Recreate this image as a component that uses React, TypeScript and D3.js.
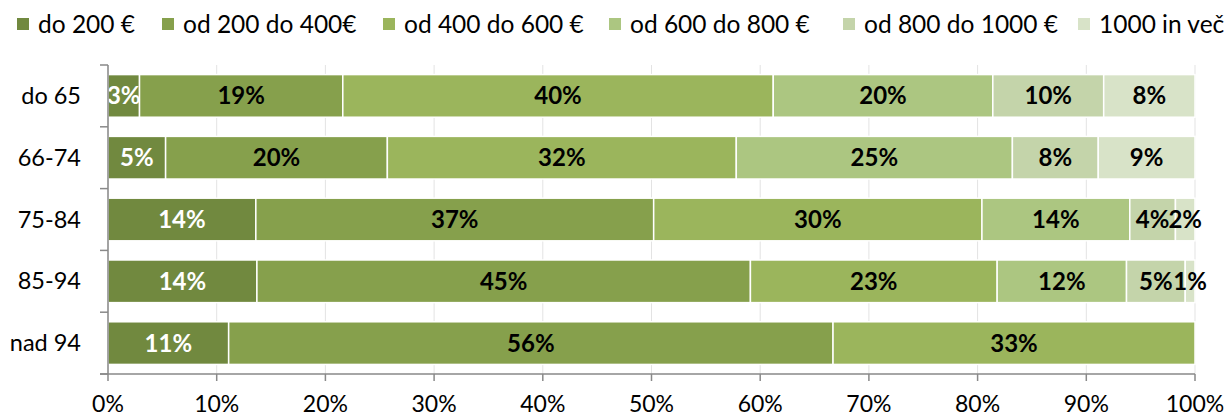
import React from "react";
import * as d3 from "d3";

const categories = ["do 65", "66-74", "75-84", "85-94", "nad 94"];
const seriesNames = ["do 200 €", "od 200 do 400€", "od 400 do 600 €", "od 600 do 800 €", "od 800 do 1000 €", "1000 in več"];
const seriesColors = ["#71893F", "#86A04C", "#9BB55C", "#ACC681", "#C4D4AA", "#D8E3C8"];
const labelColors = ["#FFFFFF", "#000000", "#000000", "#000000", "#000000", "#000000"];
// values per category, in series order (percent)
const rowDo65 = [2.9, 18.7, 39.6, 20.2, 10.2, 8.4];
const row66_74 = [5.3, 20.4, 32.1, 25.4, 7.9, 8.9];
const row75_84 = [13.6, 36.6, 30.2, 13.6, 4.2, 1.8];
const row85_94 = [13.7, 45.4, 22.7, 11.9, 5.4, 0.9];
const rowNad94 = [11.1, 55.6, 33.3, 0, 0, 0];
const rows = [rowDo65, row66_74, row75_84, row85_94, rowNad94];
const xTicks = [0, 10, 20, 30, 40, 50, 60, 70, 80, 90, 100];
const legendX = [17, 162, 383, 609, 843, 1078];

const W = 1227, H = 417;
const FONT = "Lato, 'Open Sans', sans-serif";

export default function App() {
  const x = d3.scaleLinear().domain([0, 100]).range([108, 1195]);
  const y = d3.scaleBand<string>().domain(categories).range([65, 374]).paddingInner(0.31).paddingOuter(0.155);
  const step = y.step();
  const top = 65, bottom = 374;

  const stacked = rows.map((r) => {
    let acc = 0;
    return r.map((v) => {
      const s = acc;
      acc += v;
      return [s, acc];
    });
  });

  return (
    <svg width={W} height={H} style={{ position: "absolute", left: 0, top: 0, background: "#fff" }} fontFamily={FONT}>
      <defs>
        <clipPath id="plotClip">
          <rect x={108} y={top} width={1195 - 108 + 40} height={bottom - top} />
        </clipPath>
      </defs>
      {/* legend */}
      {seriesNames.map((n, i) => (
        <g key={n}>
          <rect x={legendX[i]} y={18} width={12} height={12} fill={seriesColors[i]} />
          <text x={legendX[i] + 21} y={33} fontSize={24.5} fill="#000">{n}</text>
        </g>
      ))}
      {/* gridlines */}
      {xTicks.map((t) => (
        <line key={"g" + t} x1={x(t)} x2={x(t)} y1={top} y2={bottom} stroke="#E3E3E3" strokeWidth={1} />
      ))}
      {/* bars */}
      {categories.map((c, ci) => (
        <g key={c}>
          {stacked[ci].map(([s, e], si) =>
            e - s > 0 ? (
              <rect key={si} x={x(s)} y={y(c)!} width={x(e) - x(s)} height={y.bandwidth()} fill={seriesColors[si]} stroke="#FFFFFF" strokeWidth={1.5} />
            ) : null
          )}
          <g clipPath="url(#plotClip)">
            {stacked[ci].map(([s, e], si) =>
              e - s > 0 ? (
                <text key={"t" + si} x={(x(s) + x(e)) / 2} y={y(c)! + y.bandwidth() / 2 + 8.5} textAnchor="middle" fontSize={24} fontWeight="bold" fill={labelColors[si]}>
                  {Math.round(e - s) + "%"}
                </text>
              ) : null
            )}
          </g>
        </g>
      ))}
      {/* y axis */}
      <line x1={108} x2={108} y1={top} y2={bottom} stroke="#898989" strokeWidth={1.5} />
      {d3.range(categories.length + 1).map((i) => (
        <line key={"yt" + i} x1={100} x2={108} y1={top + i * step} y2={top + i * step} stroke="#898989" strokeWidth={1.5} />
      ))}
      {categories.map((c) => (
        <text key={"yl" + c} x={81} y={y(c)! + y.bandwidth() / 2 + 8} textAnchor="end" fontSize={23.5} fill="#000">{c}</text>
      ))}
      {/* x axis */}
      <line x1={100} x2={1195} y1={bottom} y2={bottom} stroke="#898989" strokeWidth={1.5} />
      {xTicks.map((t) => (
        <g key={"xt" + t}>
          <line x1={x(t)} x2={x(t)} y1={bottom} y2={bottom + 7} stroke="#898989" strokeWidth={1.5} />
          <text x={x(t)} y={412} textAnchor="middle" fontSize={23} fill="#000">{t + "%"}</text>
        </g>
      ))}
    </svg>
  );
}
